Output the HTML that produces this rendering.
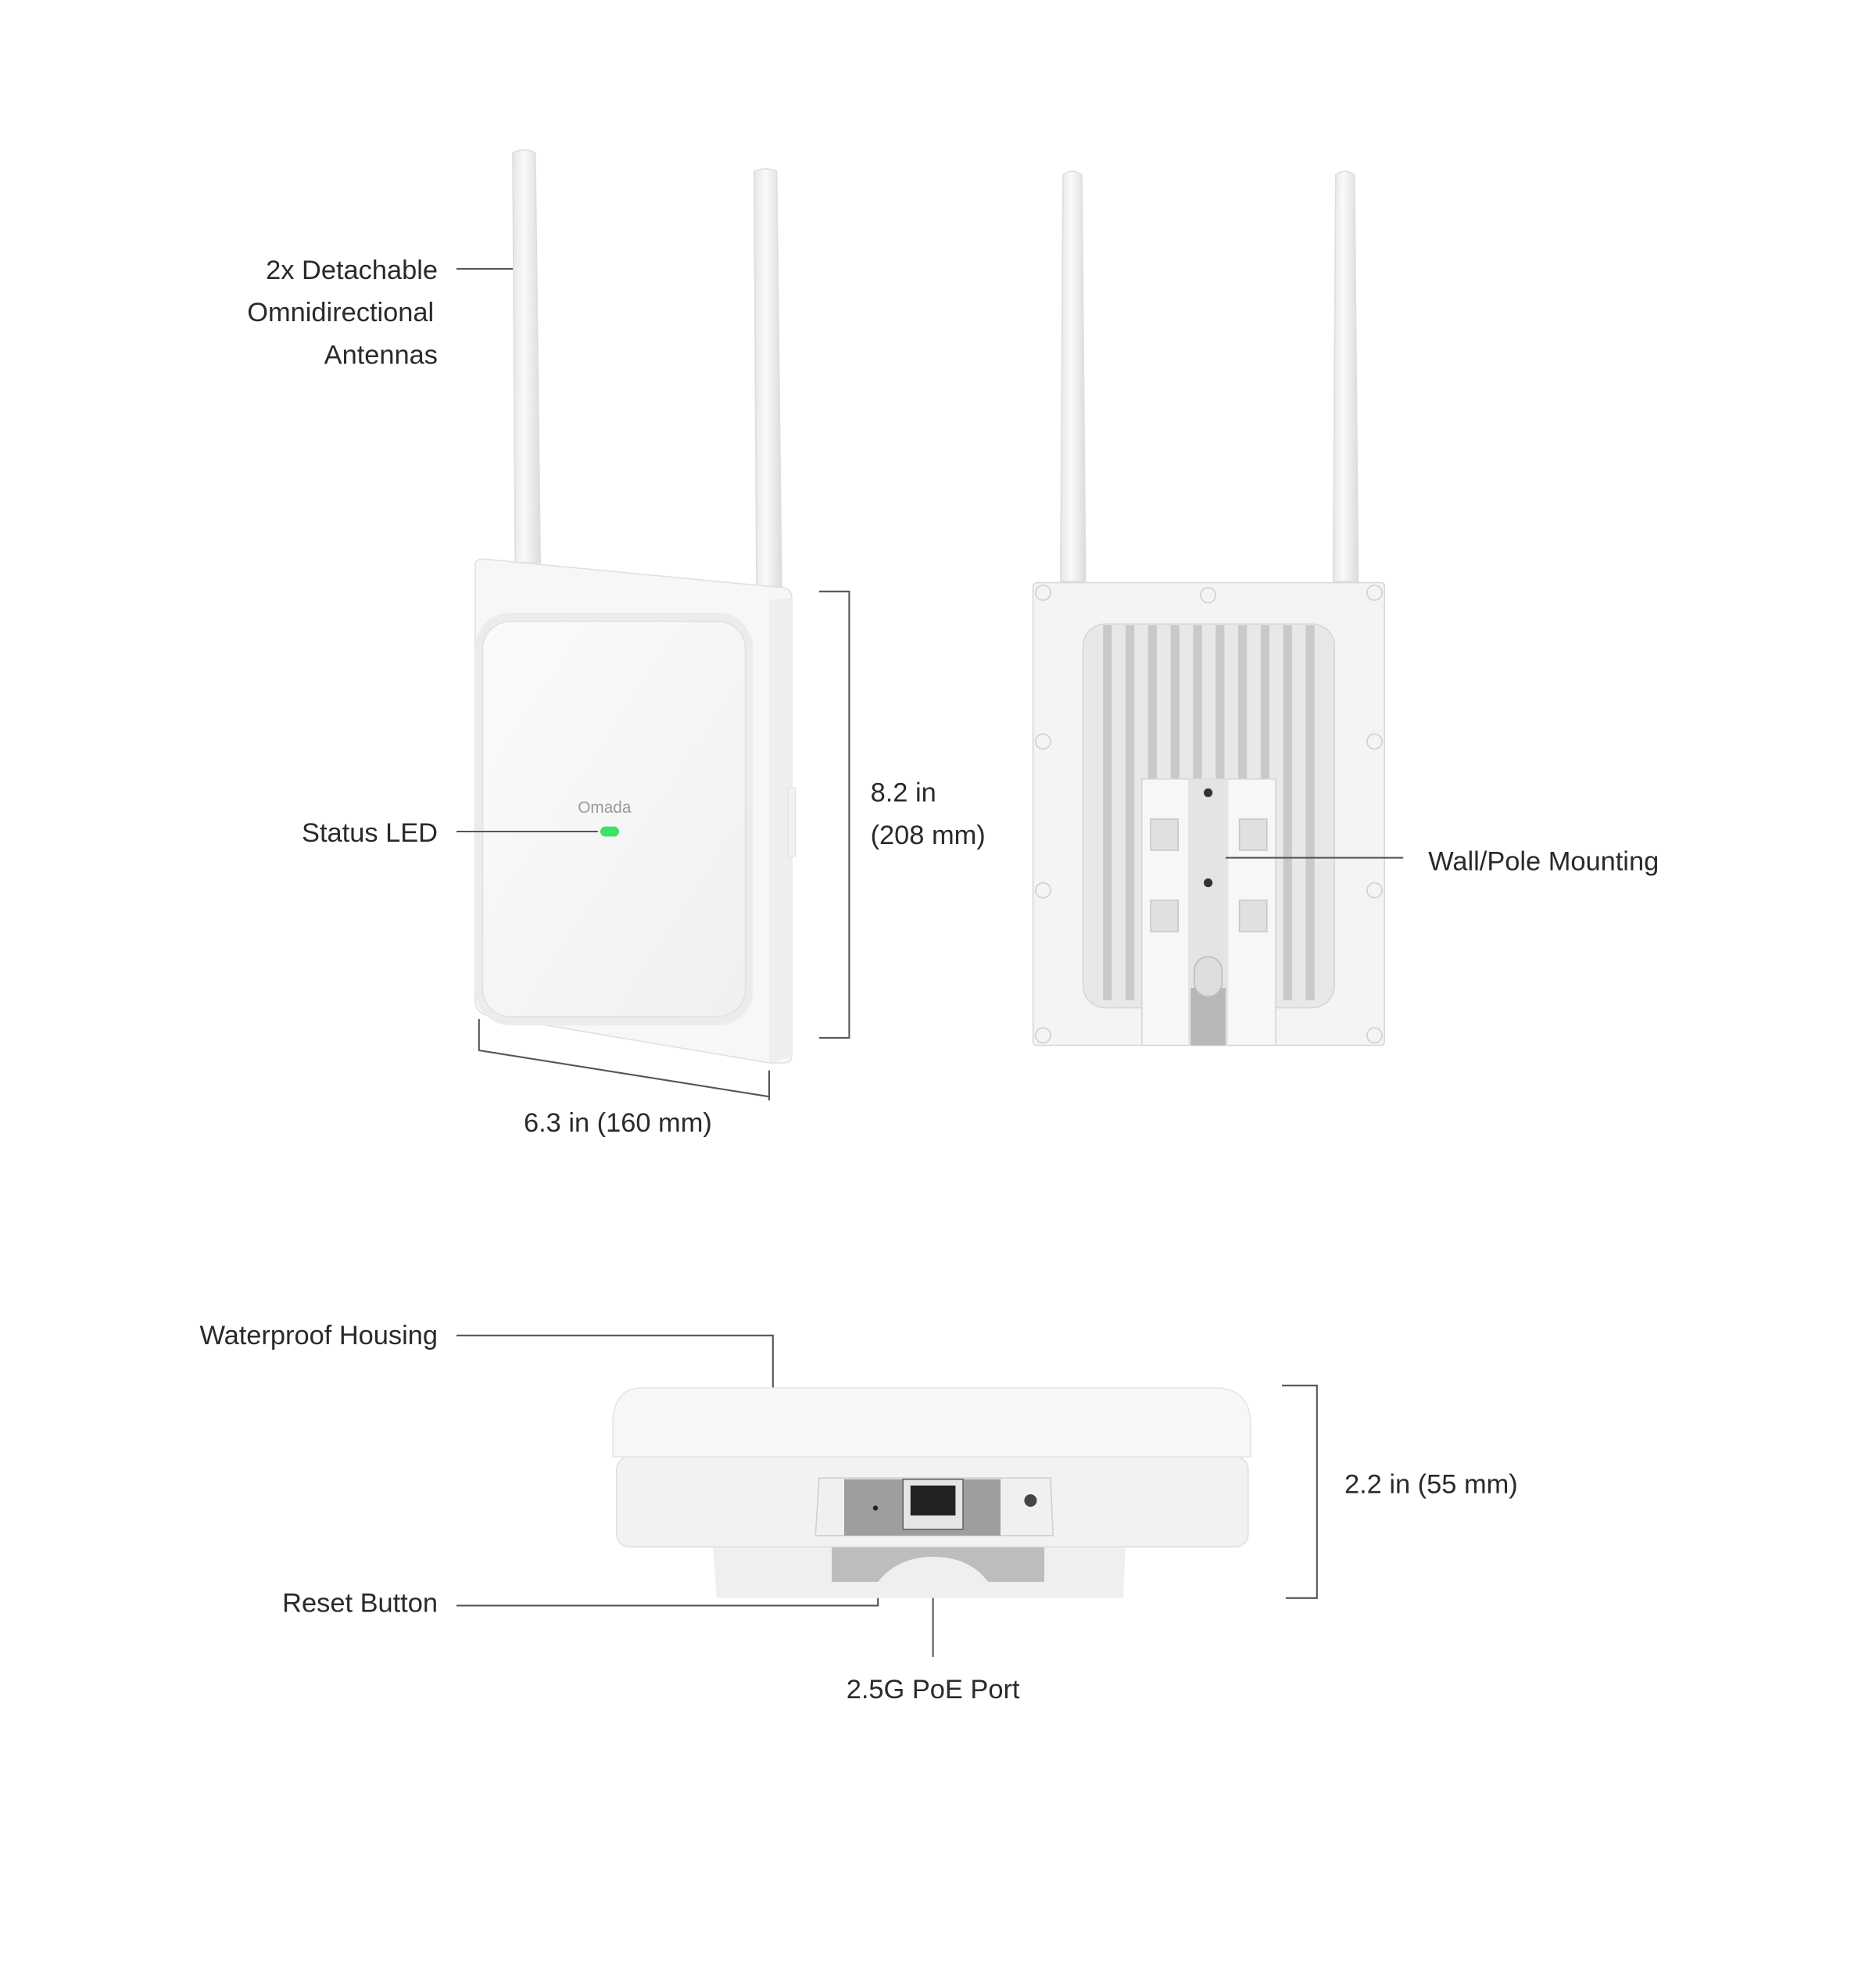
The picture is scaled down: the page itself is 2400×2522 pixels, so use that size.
<!DOCTYPE html>
<html><head><meta charset="utf-8"><style>html,body{margin:0;padding:0;background:#fff}svg{display:block}text{font-family:"Liberation Sans",sans-serif;fill:#2a2a2a;font-size:21.5px}</style></head>
<body>
<svg width="2400" height="2522" viewBox="0 0 1500 1576.25" xmlns="http://www.w3.org/2000/svg">
<defs>
<linearGradient id="ant" x1="0" x2="1"><stop offset="0" stop-color="#e6e6e6"/><stop offset=".4" stop-color="#fafafa"/><stop offset="1" stop-color="#dcdcdc"/></linearGradient>
<linearGradient id="face" x1="0" y1="0" x2="1" y2="1"><stop offset="0" stop-color="#fbfbfb"/><stop offset="1" stop-color="#f0f0f0"/></linearGradient>
</defs>
<g stroke="#555" stroke-width="1.3" fill="none">
<line x1="365" y1="215" x2="420" y2="215"/>
<polyline points="655,473 679,473 679,830 655,830"/>
<polyline points="383,815 383,840 615,877"/>
<line x1="615" y1="856" x2="615" y2="880"/>
<polyline points="365,1068 618,1068 618,1145"/>
<polyline points="365,1284 702,1284 702,1205"/>
<line x1="746" y1="1215" x2="746" y2="1325"/>
<polyline points="1025,1108 1053,1108 1053,1278 1028,1278"/>
</g>
<!-- front device antennas -->
<path d="M410,122 Q419,118 428,122 L432,450 L412,450 Z" fill="url(#ant)" stroke="#ddd"/>
<path d="M603,137 Q612,133 621,137 L625,472 L605,472 Z" fill="url(#ant)" stroke="#ddd"/>
<path d="M380,452 Q380,447 386,447 L626,470 Q633,471 633,478 L633,845 Q633,850 626,850 L615,850 L390,812 Q380,810 380,800 Z" fill="#f7f7f7" stroke="#e0e0e0"/>
<path d="M615,480 L633,478 L633,845 L615,850 Z" fill="#eeeeee"/>
<rect x="380" y="490" width="222" height="330" rx="28" fill="#ececec"/>
<rect x="386" y="497" width="210" height="316" rx="22" fill="url(#face)" stroke="#e2e2e2"/>
<line x1="365" y1="665" x2="478" y2="665" stroke="#555" stroke-width="1.3"/>
<text x="462" y="650" style="font-size:13px;fill:#9a9a9a">Omada</text>
<rect x="480" y="661" width="15" height="8" rx="4" fill="#3ee06a"/>
<rect x="630" y="630" width="6" height="55" fill="#f2f2f2" stroke="#ddd" stroke-width=".5"/>
<!-- back device -->
<path d="M850,140 Q857,134 865,140 L868,465 L848,465 Z" fill="url(#ant)" stroke="#ddd"/>
<path d="M1068,140 Q1075,134 1083,140 L1086,465 L1066,465 Z" fill="url(#ant)" stroke="#ddd"/>
<rect x="826" y="466" width="281" height="370" rx="3" fill="#f4f4f4" stroke="#d8d8d8"/>
<g fill="none" stroke="#cfcfcf"><circle cx="834" cy="474" r="6"/><circle cx="966" cy="476" r="6"/><circle cx="1099" cy="474" r="6"/><circle cx="834" cy="593" r="6"/><circle cx="1099" cy="593" r="6"/><circle cx="834" cy="712" r="6"/><circle cx="1099" cy="712" r="6"/><circle cx="834" cy="828" r="6"/><circle cx="1099" cy="828" r="6"/></g>
<rect x="866" y="499" width="201" height="307" rx="18" fill="#e8e8e8" stroke="#d6d6d6"/>
<g fill="#c9c9c9">
<rect x="882" y="500" width="7" height="300"/><rect x="900" y="500" width="7" height="300"/><rect x="918" y="500" width="7" height="300"/><rect x="936" y="500" width="7" height="300"/><rect x="954" y="500" width="7" height="300"/><rect x="972" y="500" width="7" height="300"/><rect x="990" y="500" width="7" height="300"/><rect x="1008" y="500" width="7" height="300"/><rect x="1026" y="500" width="7" height="300"/><rect x="1044" y="500" width="7" height="300"/>
</g>
<rect x="913" y="623" width="107" height="213" fill="#f7f7f7" stroke="#d6d6d6"/>
<rect x="950" y="623" width="32" height="213" fill="#e4e4e4"/>
<rect x="952" y="790" width="28" height="46" fill="#b8b8b8"/>
<rect x="955" y="765" width="22" height="32" rx="11" fill="#ddd" stroke="#bbb"/>
<g fill="#e0e0e0" stroke="#c8c8c8"><rect x="920" y="655" width="22" height="25"/><rect x="991" y="655" width="22" height="25"/><rect x="920" y="720" width="22" height="25"/><rect x="991" y="720" width="22" height="25"/></g>
<circle cx="966" cy="634" r="3.5" fill="#333"/><circle cx="966" cy="706" r="3.5" fill="#333"/>
<line x1="980" y1="686" x2="1122" y2="686" stroke="#555" stroke-width="1.3"/>
<!-- bottom device -->
<path d="M570,1236 L900,1236 L898,1278 L573,1278 Z" fill="#efefef"/>
<path d="M665,1236 L835,1236 L835,1265 L790,1265 Q775,1245 746,1245 Q718,1245 702,1265 L665,1265 Z" fill="#bdbdbd"/>
<rect x="493" y="1165" width="505" height="72" rx="10" fill="#f2f2f2" stroke="#e0e0e0"/>
<path d="M510,1110 L975,1110 Q1000,1112 1000,1140 L1000,1165 L490,1165 L490,1140 Q490,1112 510,1110 Z" fill="#f7f7f7" stroke="#e5e5e5"/>
<path d="M655,1182 L840,1182 L842,1228 L652,1228 Z" fill="#f0f0f0" stroke="#d0d0d0"/>
<rect x="675" y="1183" width="125" height="45" fill="#9e9e9e"/>
<rect x="722" y="1183" width="48" height="40" fill="#e5e5e5" stroke="#666"/>
<rect x="728" y="1188" width="36" height="24" fill="#222"/>
<circle cx="700" cy="1206" r="2" fill="#222"/>
<circle cx="824" cy="1200" r="5" fill="#444"/>
<text x="350" y="223" text-anchor="end">2x Detachable</text>
<text x="347" y="257" text-anchor="end">Omnidirectional</text>
<text x="350" y="291" text-anchor="end">Antennas</text>
<text x="350" y="673" text-anchor="end">Status LED</text>
<text x="696" y="641">8.2 in</text>
<text x="696" y="675">(208 mm)</text>
<text x="494" y="905" text-anchor="middle">6.3 in (160 mm)</text>
<text x="1142" y="696">Wall/Pole Mounting</text>
<text x="350" y="1075" text-anchor="end">Waterproof Housing</text>
<text x="350" y="1289" text-anchor="end">Reset Button</text>
<text x="746" y="1358" text-anchor="middle">2.5G PoE Port</text>
<text x="1075" y="1194">2.2 in (55 mm)</text>
</svg>
</body></html>
